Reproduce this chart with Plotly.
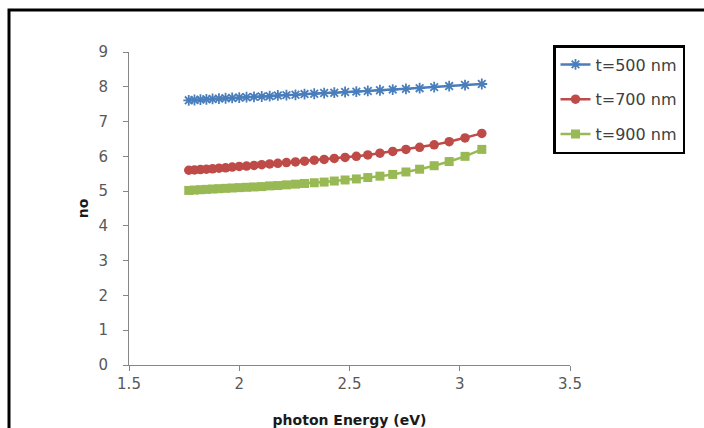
import plotly.graph_objects as go

# photon energy (eV)
energy = [1.771, 1.797, 1.824, 1.851, 1.879, 1.908, 1.938, 1.968, 2.000, 2.033,
          2.067, 2.102, 2.138, 2.175, 2.214, 2.255, 2.296, 2.340, 2.385, 2.431,
          2.480, 2.531, 2.583, 2.638, 2.696, 2.756, 2.818, 2.884, 2.952, 3.024, 3.100]

no_500 = [7.61, 7.62, 7.63, 7.64, 7.65, 7.66, 7.67, 7.68, 7.69, 7.70,
          7.71, 7.72, 7.73, 7.75, 7.76, 7.77, 7.79, 7.80, 7.82, 7.83,
          7.85, 7.86, 7.88, 7.90, 7.92, 7.94, 7.96, 7.99, 8.02, 8.05, 8.08]

no_700 = [5.60, 5.61, 5.62, 5.63, 5.64, 5.66, 5.67, 5.69, 5.71, 5.72,
          5.74, 5.76, 5.78, 5.80, 5.82, 5.84, 5.86, 5.89, 5.91, 5.94,
          5.97, 6.00, 6.04, 6.09, 6.14, 6.20, 6.26, 6.33, 6.42, 6.53, 6.66]

no_900 = [5.02, 5.03, 5.04, 5.05, 5.06, 5.07, 5.08, 5.09, 5.10, 5.11,
          5.12, 5.13, 5.15, 5.16, 5.18, 5.20, 5.22, 5.24, 5.26, 5.29,
          5.32, 5.35, 5.39, 5.43, 5.48, 5.55, 5.63, 5.73, 5.85, 6.00, 6.20]

series_names = ["t=500 nm", "t=700 nm", "t=900 nm"]
x_ticks = [1.5, 2, 2.5, 3, 3.5]
y_ticks = [0, 1, 2, 3, 4, 5, 6, 7, 8, 9]

FONT = "DejaVu Sans"

fig = go.Figure()
fig.add_trace(go.Scatter(
    x=energy, y=no_500, name=series_names[0], mode="lines+markers", legendgroup="a",
    line=dict(color="#4A7EBB", width=2.5),
    marker=dict(symbol="asterisk-open", size=9, color="#4A7EBB", line=dict(color="#4A7EBB", width=1.8)),
))
fig.add_trace(go.Scatter(
    x=energy, y=no_700, name=series_names[1], mode="lines+markers", legendgroup="b",
    line=dict(color="#BE4B48", width=2.5),
    marker=dict(symbol="circle", size=9.5, color="#BE4B48"),
))
fig.add_trace(go.Scatter(
    x=energy, y=no_900, name=series_names[2], mode="lines+markers", legendgroup="c",
    line=dict(color="#98B954", width=2.5),
    marker=dict(symbol="square", size=9, color="#98B954"),
))

W, H = 704, 428
L, R, T, B = 129, 570, 52, 365
pw, ph = R - L, B - T

def px(xp):
    return (xp - L) / pw

def py(yp):
    return (B - yp) / ph

fig.update_layout(
    width=W, height=H,
    margin=dict(l=L, r=W - R, t=T, b=H - B, pad=0, autoexpand=False),
    paper_bgcolor="white", plot_bgcolor="white",
    font=dict(family=FONT, color="#595959", size=15),
    showlegend=True,
    legend=dict(
        x=px(553), y=py(45), xanchor="left", yanchor="top",
        bordercolor="black", borderwidth=2.5, bgcolor="white",
        font=dict(family=FONT, size=16, color="#404040"),
        traceorder="grouped", tracegroupgap=11,
    ),
    xaxis=dict(
        range=[1.5, 3.5], tickvals=x_ticks, ticktext=[str(v) for v in x_ticks],
        showgrid=False, zeroline=False, showline=True, linecolor="#868686", linewidth=1,
        ticks="outside", ticklen=5, tickcolor="#868686", automargin=False,
        title=dict(text="<b>photon Energy (eV)</b>", standoff=26,
                   font=dict(family=FONT, size=14, color="#1a1a1a")),
    ),
    yaxis=dict(
        range=[0, 9], tickvals=y_ticks,
        showgrid=False, zeroline=False, showline=True, linecolor="#868686", linewidth=1,
        ticks="outside", ticklen=5, tickcolor="#868686", ticklabelstandoff=12, automargin=False,
        title=dict(text="<b>no</b>", standoff=6,
                   font=dict(family=FONT, size=14, color="#1a1a1a")),
    ),
    shapes=[dict(
        type="rect", xref="paper", yref="paper",
        x0=px(9), x1=px(740), y0=py(470), y1=py(10),
        line=dict(color="black", width=3), fillcolor="rgba(0,0,0,0)", layer="above",
    )],
)

fig.write_html("out.html")
